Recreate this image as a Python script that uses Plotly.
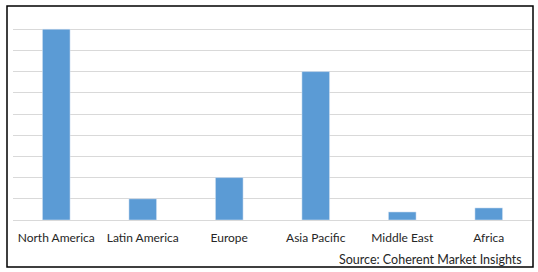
import plotly.graph_objects as go

regions = ["North America", "Latin America", "Europe", "Asia Pacific", "Middle East", "Africa"]
values = [9.0, 1.0, 2.0, 7.0, 0.38, 0.57]
source_text = "Source: Coherent Market Insights"

W, H = 538, 272
L, R, T, B = 13, 6, 8, 52
pw, ph = W - L - R, H - T - B

def px_x(x):
    return (x - L) / pw

def px_y(y):
    return (H - B - y) / ph

fig = go.Figure(go.Bar(x=regions, y=values, marker_color="#5B9BD5", width=0.32))

fig.update_layout(
    width=W, height=H,
    margin=dict(l=L, r=R, t=T, b=B),
    paper_bgcolor="white", plot_bgcolor="white",
    font=dict(family="Lato", size=12, color="#262626"),
    showlegend=False,
    bargap=0.68,
)
fig.update_yaxes(range=[0, 10], dtick=1, showticklabels=False, showgrid=True,
                 gridcolor="#D9D9D9", gridwidth=1, zeroline=True, zerolinecolor="#D9D9D9",
                 zerolinewidth=1, showline=False, fixedrange=True)
fig.update_xaxes(showgrid=False, showline=False, ticks="", ticklabelstandoff=9,
                 tickfont=dict(family="Lato", size=12, color="#262626"))

fig.add_shape(type="rect", xref="paper", yref="paper",
              x0=px_x(7), x1=px_x(533), y0=px_y(267), y1=px_y(6),
              line=dict(color="black", width=1.5), layer="above")

fig.add_annotation(text=source_text, xref="paper", yref="paper",
                   x=px_x(524), y=px_y(259), xanchor="right", yanchor="middle",
                   showarrow=False, font=dict(family="Lato", size=12.5, color="#262626"))

fig.write_html("out.html")
